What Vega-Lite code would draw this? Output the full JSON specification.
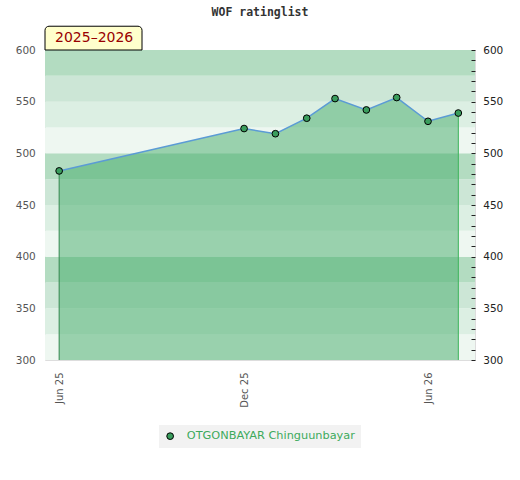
{
  "$schema": "https://vega.github.io/schema/vega-lite/v6.json",
  "width": 430,
  "height": 310,
  "autosize": {"type": "none"},
  "padding": {"left": 45, "top": 50, "right": 45, "bottom": 120},
  "background": "white",
  "title": {"text": "WOF ratinglist", "font": "DejaVu Sans Mono", "fontWeight": "bold", "fontSize": 11.5, "color": "#333333", "anchor": "middle", "offset": 7},
  "config": {
    "font": "DejaVu Sans",
    "view": {"stroke": "#dddddd"},
    "legend": {"orient": "none", "legendX": 114, "legendY": 375, "fillColor": "#f2f2f2", "padding": 5.5, "labelFontSize": 11.3, "labelColor": "#3daa5c", "labelFont": "DejaVu Sans", "labelLimit": 0, "symbolType": "circle", "symbolSize": 45, "symbolStrokeColor": "#000000", "symbolStrokeWidth": 1, "labelOffset": 11, "title": null}
  },
  "datasets": {
    "ratings": [
      {"date": "2025-06-01", "rating": 483, "player": "OTGONBAYAR Chinguunbayar"},
      {"date": "2025-12-01", "rating": 524, "player": "OTGONBAYAR Chinguunbayar"},
      {"date": "2026-01-01", "rating": 519, "player": "OTGONBAYAR Chinguunbayar"},
      {"date": "2026-02-01", "rating": 534, "player": "OTGONBAYAR Chinguunbayar"},
      {"date": "2026-03-01", "rating": 553, "player": "OTGONBAYAR Chinguunbayar"},
      {"date": "2026-04-01", "rating": 542, "player": "OTGONBAYAR Chinguunbayar"},
      {"date": "2026-05-01", "rating": 554, "player": "OTGONBAYAR Chinguunbayar"},
      {"date": "2026-06-01", "rating": 531, "player": "OTGONBAYAR Chinguunbayar"},
      {"date": "2026-07-01", "rating": 539, "player": "OTGONBAYAR Chinguunbayar"}
    ],
    "edges": [
      {"date": "2025-06-01", "rating": 483, "edge": "first"},
      {"date": "2026-07-01", "rating": 539, "edge": "last"}
    ],
    "bands": [
      {"lo": 300, "hi": 325, "shade": "a"},
      {"lo": 325, "hi": 350, "shade": "b"},
      {"lo": 350, "hi": 375, "shade": "c"},
      {"lo": 375, "hi": 400, "shade": "d"},
      {"lo": 400, "hi": 425, "shade": "a"},
      {"lo": 425, "hi": 450, "shade": "b"},
      {"lo": 450, "hi": 475, "shade": "c"},
      {"lo": 475, "hi": 500, "shade": "d"},
      {"lo": 500, "hi": 525, "shade": "a"},
      {"lo": 525, "hi": 550, "shade": "b"},
      {"lo": 550, "hi": 575, "shade": "c"},
      {"lo": 575, "hi": 600, "shade": "d"}
    ],
    "season": [
      {"label": "2025–2026", "start": "2025-05-18", "end": "2025-08-22", "lo": 600, "hi": 623}
    ]
  },
  "layer": [
    {
      "data": {"name": "bands"},
      "mark": {"type": "rect"},
      "encoding": {
        "y": {"field": "lo", "type": "quantitative", "scale": {"domain": [300, 600], "nice": false, "zero": false},
          "axis": {"orient": "left", "values": [300, 350, 400, 450, 500, 550, 600], "ticks": false, "domain": false, "grid": false, "labelPadding": 9.7, "labelColor": "#555555", "labelFontSize": 10.5, "title": null}},
        "y2": {"field": "hi"},
        "fill": {"field": "shade", "type": "nominal", "scale": {"domain": ["a", "b", "c", "d"], "range": ["#eef7f1", "#dcefe3", "#cce6d6", "#b3dcc1"]}, "legend": null}
      }
    },
    {
      "data": {"name": "ratings"},
      "mark": {"type": "area", "color": "#44ab69", "opacity": 0.5},
      "encoding": {
        "x": {"field": "date", "type": "temporal",
          "scale": {"type": "utc", "domain": [{"year": 2025, "month": 5, "date": 18, "utc": true}, {"year": 2026, "month": 7, "date": 17, "hours": 12, "utc": true}]},
          "axis": {"values": [{"year": 2025, "month": 6, "date": 1, "utc": true}, {"year": 2025, "month": 12, "date": 1, "utc": true}, {"year": 2026, "month": 6, "date": 1, "utc": true}], "format": "%b %y", "labelAngle": 270, "labelOverlap": false, "ticks": false, "domain": false, "grid": false, "labelPadding": 12, "labelColor": "#555555", "labelFontSize": 10, "title": null}},
        "y": {"field": "rating", "type": "quantitative", "scale": {"domain": [300, 600], "nice": false, "zero": false}, "axis": null},
        "y2": {"datum": 300}
      }
    },
    {
      "data": {"name": "edges"},
      "mark": {"type": "rule", "strokeWidth": 1},
      "encoding": {
        "x": {"field": "date", "type": "temporal", "scale": {"type": "utc", "domain": [{"year": 2025, "month": 5, "date": 18, "utc": true}, {"year": 2026, "month": 7, "date": 17, "hours": 12, "utc": true}]},
          "axis": {"values": [{"year": 2025, "month": 6, "date": 1, "utc": true}, {"year": 2025, "month": 12, "date": 1, "utc": true}, {"year": 2026, "month": 6, "date": 1, "utc": true}], "format": "%b %y", "labelAngle": 270, "labelOverlap": false, "ticks": false, "domain": false, "grid": false, "labelPadding": 12, "labelColor": "#555555", "labelFontSize": 10, "title": null}},
        "y": {"field": "rating", "type": "quantitative", "scale": {"domain": [300, 600], "nice": false, "zero": false}, "axis": null},
        "y2": {"datum": 300},
        "stroke": {"field": "edge", "type": "nominal", "scale": {"domain": ["first", "last"], "range": ["#33884f", "#3cb35a"]}, "legend": null}
      }
    },
    {
      "data": {"name": "ratings"},
      "mark": {"type": "line", "color": "#5b9bd5", "strokeWidth": 1.5},
      "encoding": {
        "x": {"field": "date", "type": "temporal", "scale": {"type": "utc", "domain": [{"year": 2025, "month": 5, "date": 18, "utc": true}, {"year": 2026, "month": 7, "date": 17, "hours": 12, "utc": true}]},
          "axis": {"values": [{"year": 2025, "month": 6, "date": 1, "utc": true}, {"year": 2025, "month": 12, "date": 1, "utc": true}, {"year": 2026, "month": 6, "date": 1, "utc": true}], "format": "%b %y", "labelAngle": 270, "labelOverlap": false, "ticks": false, "domain": false, "grid": false, "labelPadding": 12, "labelColor": "#555555", "labelFontSize": 10, "title": null}},
        "y": {"field": "rating", "type": "quantitative", "scale": {"domain": [300, 600], "nice": false, "zero": false}, "axis": null}
      }
    },
    {
      "data": {"name": "ratings"},
      "mark": {"type": "point", "shape": "circle", "filled": true, "stroke": "#000000", "strokeWidth": 1, "size": 45, "opacity": 1},
      "encoding": {
        "x": {"field": "date", "type": "temporal", "scale": {"type": "utc", "domain": [{"year": 2025, "month": 5, "date": 18, "utc": true}, {"year": 2026, "month": 7, "date": 17, "hours": 12, "utc": true}]},
          "axis": {"values": [{"year": 2025, "month": 6, "date": 1, "utc": true}, {"year": 2025, "month": 12, "date": 1, "utc": true}, {"year": 2026, "month": 6, "date": 1, "utc": true}], "format": "%b %y", "labelAngle": 270, "labelOverlap": false, "ticks": false, "domain": false, "grid": false, "labelPadding": 12, "labelColor": "#555555", "labelFontSize": 10, "title": null}},
        "y": {"field": "rating", "type": "quantitative", "scale": {"domain": [300, 600], "nice": false, "zero": false},
          "axis": {"orient": "right", "zindex": 1, "values": [300, 310, 320, 330, 340, 350, 360, 370, 380, 390, 400, 410, 420, 430, 440, 450, 460, 470, 480, 490, 500, 510, 520, 530, 540, 550, 560, 570, 580, 590, 600], "labelExpr": "datum.value % 50 === 0 ? datum.label : ''", "tickSize": -4, "tickColor": "#222222", "tickWidth": 1, "domain": false, "grid": false, "labelPadding": 11.7, "labelColor": "#222222", "labelFontSize": 10.5, "title": null}},
        "color": {"field": "player", "type": "nominal", "scale": {"range": ["#3a9d5d"]}}
      }
    },
    {
      "data": {"name": "season"},
      "mark": {"type": "rect", "fill": "#ffffcc", "stroke": "#000000", "strokeWidth": 1, "cornerRadiusTopLeft": 4, "cornerRadiusTopRight": 4},
      "encoding": {
        "x": {"field": "start", "type": "temporal", "scale": {"type": "utc", "domain": [{"year": 2025, "month": 5, "date": 18, "utc": true}, {"year": 2026, "month": 7, "date": 17, "hours": 12, "utc": true}]},
          "axis": {"values": [{"year": 2025, "month": 6, "date": 1, "utc": true}, {"year": 2025, "month": 12, "date": 1, "utc": true}, {"year": 2026, "month": 6, "date": 1, "utc": true}], "format": "%b %y", "labelAngle": 270, "labelOverlap": false, "ticks": false, "domain": false, "grid": false, "labelPadding": 12, "labelColor": "#555555", "labelFontSize": 10, "title": null}},
        "x2": {"field": "end"},
        "y": {"field": "lo", "type": "quantitative", "scale": {"domain": [300, 600], "nice": false, "zero": false}, "axis": null},
        "y2": {"field": "hi"}
      }
    },
    {
      "data": {"name": "season"},
      "mark": {"type": "text", "align": "left", "baseline": "middle", "dx": 10, "dy": -12, "fontSize": 14, "color": "#990000", "font": "DejaVu Sans"},
      "encoding": {
        "x": {"field": "start", "type": "temporal", "scale": {"type": "utc", "domain": [{"year": 2025, "month": 5, "date": 18, "utc": true}, {"year": 2026, "month": 7, "date": 17, "hours": 12, "utc": true}]},
          "axis": {"values": [{"year": 2025, "month": 6, "date": 1, "utc": true}, {"year": 2025, "month": 12, "date": 1, "utc": true}, {"year": 2026, "month": 6, "date": 1, "utc": true}], "format": "%b %y", "labelAngle": 270, "labelOverlap": false, "ticks": false, "domain": false, "grid": false, "labelPadding": 12, "labelColor": "#555555", "labelFontSize": 10, "title": null}},
        "y": {"field": "lo", "type": "quantitative", "scale": {"domain": [300, 600], "nice": false, "zero": false}, "axis": null},
        "text": {"field": "label"}
      }
    }
  ],
  "resolve": {"axis": {"y": "independent"}}
}
